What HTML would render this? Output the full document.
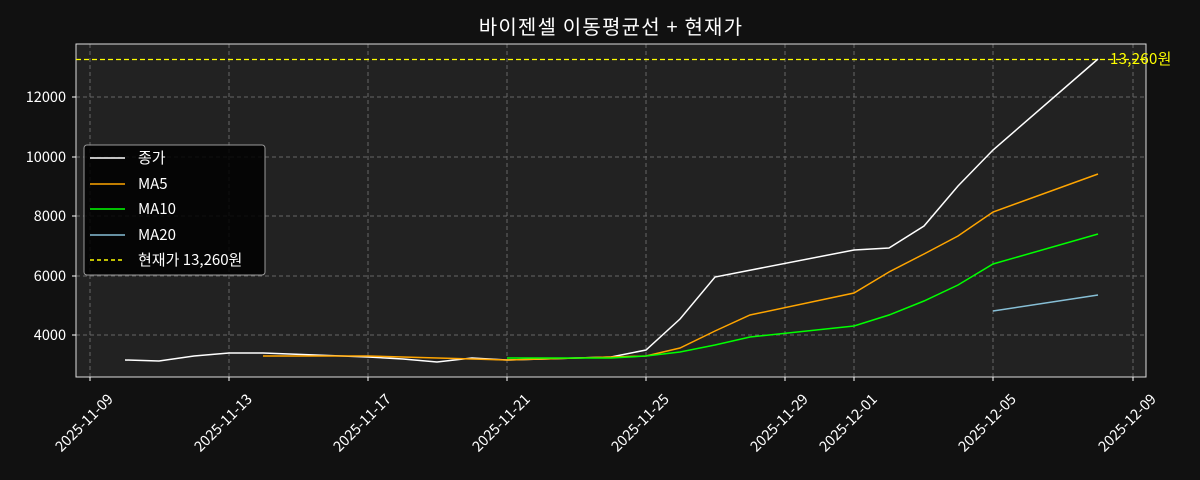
<!DOCTYPE html>
<html><head><meta charset="utf-8"><style>
html,body{margin:0;padding:0;background:#111111;overflow:hidden;width:1200px;height:480px;}
svg{display:block;}
svg text{font-family:"Noto Sans CJK KR","Liberation Sans",sans-serif;}
</style></head><body>
<svg width="1200" height="480" xmlns="http://www.w3.org/2000/svg">
<rect width="1200" height="480" fill="#111111"/>
<rect x="76" y="44" width="1070" height="333" fill="#222222"/>
<g stroke="#666" stroke-dasharray="4,3" stroke-width="1">
<line x1="90" y1="44" x2="90" y2="377"/><line x1="229" y1="44" x2="229" y2="377"/>
<line x1="368" y1="44" x2="368" y2="377"/><line x1="507" y1="44" x2="507" y2="377"/>
<line x1="646" y1="44" x2="646" y2="377"/><line x1="785" y1="44" x2="785" y2="377"/>
<line x1="854" y1="44" x2="854" y2="377"/><line x1="993" y1="44" x2="993" y2="377"/>
<line x1="1133" y1="44" x2="1133" y2="377"/>
<line x1="76" y1="97" x2="1146" y2="97"/><line x1="76" y1="157" x2="1146" y2="157"/>
<line x1="76" y1="216" x2="1146" y2="216"/><line x1="76" y1="276" x2="1146" y2="276"/>
<line x1="76" y1="335" x2="1146" y2="335"/>
</g>
<rect x="76" y="44" width="1070" height="333" fill="none" stroke="#ddd" stroke-width="1"/>
<line x1="76" y1="59.5" x2="1146" y2="59.5" stroke="#ffff00" stroke-dasharray="5,3" stroke-width="1.3"/>
<text x="1110" y="64" fill="#ffff00" font-size="15" letter-spacing="0.3">13,260원</text>
<polyline fill="none" stroke="#ffffff" stroke-width="1.5" points="125,360 159,361 194,356 229,353 263,353 368,357 403,359 437,362 472,358 507,360 611,357 646,350 680,319 715,277 854,250 889,248 924,226 958,186 993,150 1098,59"/>
<polyline fill="none" stroke="#ffa500" stroke-width="1.5" points="263,356 368,356 507,360 611,357 646,356 680,348 715,331 750,315 854,293 889,272 924,254 958,236 993,212 1098,174"/>
<polyline fill="none" stroke="#00ff00" stroke-width="1.5" points="507,358 611,358 646,356 680,352 715,345 750,337 854,326 889,315 924,301 958,285 993,264 1098,234"/>
<polyline fill="none" stroke="#87bfd6" stroke-width="1.5" points="993,311 1098,295"/>
<g fill="#fff" font-size="14.5" text-anchor="end">
<text x="66" y="102">12000</text><text x="66" y="162">10000</text><text x="66" y="221">8000</text>
<text x="66" y="281">6000</text><text x="66" y="340">4000</text>
</g>
<g stroke="#fff"><line x1="72" y1="97" x2="76" y2="97"/><line x1="72" y1="157" x2="76" y2="157"/><line x1="72" y1="216" x2="76" y2="216"/><line x1="72" y1="276" x2="76" y2="276"/><line x1="72" y1="335" x2="76" y2="335"/>
<line x1="90" y1="377" x2="90" y2="381"/><line x1="229" y1="377" x2="229" y2="381"/><line x1="368" y1="377" x2="368" y2="381"/><line x1="507" y1="377" x2="507" y2="381"/><line x1="646" y1="377" x2="646" y2="381"/><line x1="785" y1="377" x2="785" y2="381"/><line x1="854" y1="377" x2="854" y2="381"/><line x1="993" y1="377" x2="993" y2="381"/><line x1="1133" y1="377" x2="1133" y2="381"/></g>
<g fill="#fff" font-size="14.5" text-anchor="end">
<text transform="translate(114,400) rotate(-45)">2025-11-09</text>
<text transform="translate(253,400) rotate(-45)">2025-11-13</text>
<text transform="translate(392,400) rotate(-45)">2025-11-17</text>
<text transform="translate(531,400) rotate(-45)">2025-11-21</text>
<text transform="translate(670,400) rotate(-45)">2025-11-25</text>
<text transform="translate(809,400) rotate(-45)">2025-11-29</text>
<text transform="translate(878,400) rotate(-45)">2025-12-01</text>
<text transform="translate(1017,400) rotate(-45)">2025-12-05</text>
<text transform="translate(1157,400) rotate(-45)">2025-12-09</text>
</g>
<text x="611" y="34" fill="#fff" font-size="20" letter-spacing="1.2" text-anchor="middle">바이젠셀 이동평균선 + 현재가</text>
<rect x="84" y="145" width="181" height="130" rx="3" fill="#000" fill-opacity="0.85" stroke="#999"/>
<line x1="90" y1="158" x2="125" y2="158" stroke="#fff" stroke-width="1.5"/>
<line x1="90" y1="184" x2="125" y2="184" stroke="#ffa500" stroke-width="1.5"/>
<line x1="90" y1="209" x2="125" y2="209" stroke="#00ff00" stroke-width="1.5"/>
<line x1="90" y1="235" x2="125" y2="235" stroke="#87bfd6" stroke-width="1.5"/>
<line x1="90" y1="260" x2="125" y2="260" stroke="#ffff00" stroke-width="1.5" stroke-dasharray="4,3"/>
<g fill="#fff" font-size="15">
<text x="138" y="163">종가</text><text x="138" y="189">MA5</text><text x="138" y="214">MA10</text>
<text x="138" y="240">MA20</text><text x="138" y="265">현재가 13,260원</text>
</g>
</svg>
</body></html>
